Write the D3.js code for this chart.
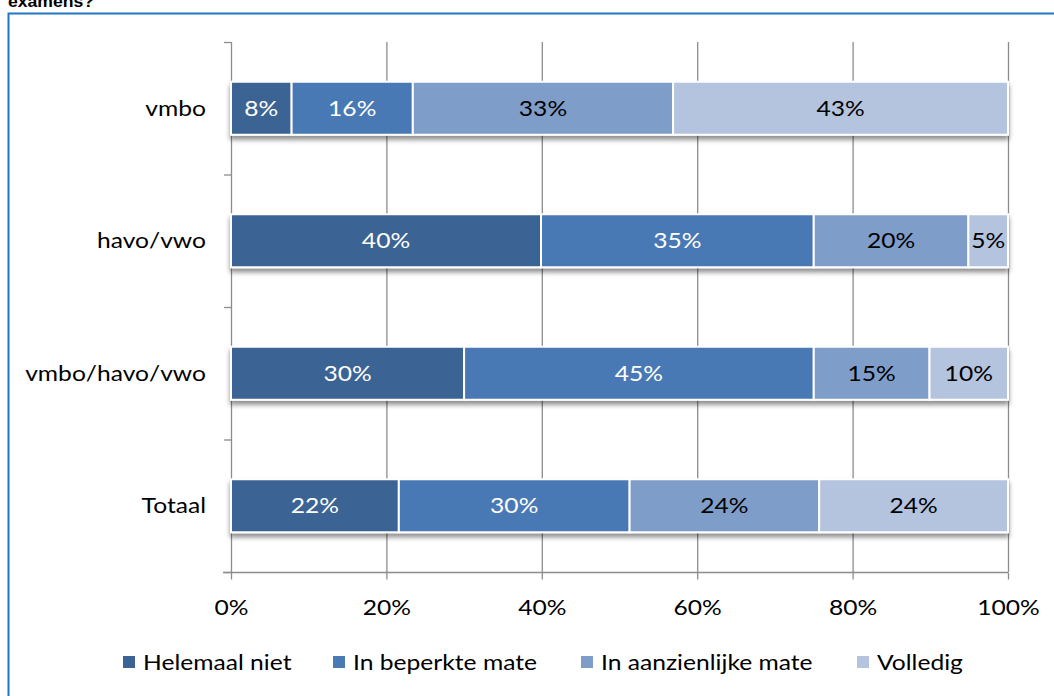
<!DOCTYPE html>
<html>
<head>
<meta charset="utf-8">
<script src="https://cdn.jsdelivr.net/npm/d3@7/dist/d3.min.js"></script>
<style>
html,body{margin:0;padding:0;background:#fff;}
svg{display:block;}
text{font-family:Lato,"Open Sans",sans-serif;}
</style>
</head>
<body>
<svg id="chart" width="1054" height="696"></svg>
<script>
const categories = ["vmbo", "havo/vwo", "vmbo/havo/vwo", "Totaal"];
const seriesNames = ["Helemaal niet", "In beperkte mate", "In aanzienlijke mate", "Volledig"];
const helemaalNiet = [7.8, 39.9, 30.0, 21.6];
const inBeperkteMate = [15.6, 35.1, 45.0, 29.7];
const inAanzienlijkeMate = [33.5, 19.9, 14.9, 24.4];
const volledig = [43.1, 5.1, 10.1, 24.3];
const labelsHelemaalNiet = ["8%", "40%", "30%", "22%"];
const labelsInBeperkteMate = ["16%", "35%", "45%", "30%"];
const labelsInAanzienlijkeMate = ["33%", "20%", "15%", "24%"];
const labelsVolledig = ["43%", "5%", "10%", "24%"];
const xTicks = [0, 20, 40, 60, 80, 100];
const xTickLabels = ["0%", "20%", "40%", "60%", "80%", "100%"];
const colors = ["#3b6494", "#4a79b4", "#7f9dc9", "#b4c3de"];
const textColors = ["#ffffff", "#ffffff", "#000000", "#000000"];

const seriesValues = [helemaalNiet, inBeperkteMate, inAanzienlijkeMate, volledig];
const seriesLabels = [labelsHelemaalNiet, labelsInBeperkteMate, labelsInAanzienlijkeMate, labelsVolledig];

const SX = 1.12; // horizontal stretch of the reference text
const FS = 22;

const svg = d3.select("#chart");

function stretchedText(sel, px, py, anchor, fs, sx) {
  return sel.append("text")
    .attr("transform", `translate(${px},${py}) scale(${sx},1)`)
    .attr("text-anchor", anchor).attr("font-size", fs);
}

// clipped title and outer frame
stretchedText(svg, 8, 7, "start", 16, 1.1)
  .style("font-family", "'Liberation Sans', Arial, sans-serif")
  .attr("font-weight", "bold").attr("fill", "#000")
  .text("examens?");
svg.append("rect").attr("x", 8.5).attr("y", 13.5).attr("width", 1060).attr("height", 700)
  .attr("fill", "none").attr("stroke", "#1f77c4").attr("stroke-width", 2);

const x = d3.scaleLinear().domain([0, 100]).range([231, 1008]);
const y = d3.scaleBand().domain(categories).range([42, 572]).paddingInner(0.6).paddingOuter(0.3);

const defs = svg.append("defs");
const f = defs.append("filter").attr("id", "shadow").attr("x", "-5%").attr("y", "-20%").attr("width", "110%").attr("height", "160%");
f.append("feGaussianBlur").attr("in", "SourceAlpha").attr("stdDeviation", 2.5).attr("result", "b");
f.append("feOffset").attr("in", "b").attr("dx", 0).attr("dy", 4).attr("result", "o");
f.append("feComponentTransfer").attr("in", "o").attr("result", "s")
  .append("feFuncA").attr("type", "linear").attr("slope", 0.45);
const m = f.append("feMerge");
m.append("feMergeNode").attr("in", "s");
m.append("feMergeNode").attr("in", "SourceGraphic");

// gridlines
svg.append("g").selectAll("line").data(xTicks.slice(1)).join("line")
  .attr("x1", d => x(d) + 0.5).attr("x2", d => x(d) + 0.5)
  .attr("y1", 42).attr("y2", 572)
  .attr("stroke", "#8c8c8c").attr("stroke-width", 1.3);

// x axis
const xAxis = svg.append("g").attr("transform", "translate(0,572.5)")
  .call(d3.axisBottom(x).tickValues(xTicks).tickFormat((d, i) => xTickLabels[i]).tickSize(7).tickSizeOuter(0));
xAxis.select(".domain").attr("stroke", "#8c8c8c").attr("stroke-width", 1.3).attr("d", "M223,0H1008");
xAxis.selectAll(".tick line").attr("stroke", "#8c8c8c").attr("stroke-width", 1.3);
xAxis.selectAll(".tick text").attr("font-size", FS).attr("fill", "#000")
  .attr("y", 0).attr("dy", null)
  .attr("transform", `translate(0,42) scale(${SX},1)`)
  .style("font-family", "Lato, sans-serif");

// y axis
const yEdges = d3.range(categories.length + 1).map(i => 42 + i * y.step());
const yAxisG = svg.append("g");
yAxisG.append("line").attr("x1", 231.5).attr("x2", 231.5).attr("y1", 42).attr("y2", 572)
  .attr("stroke", "#8c8c8c").attr("stroke-width", 1.3);
yAxisG.selectAll("line.t").data(yEdges).join("line").attr("class", "t")
  .attr("x1", 224).attr("x2", 231).attr("y1", d => d + 0.5).attr("y2", d => d + 0.5)
  .attr("stroke", "#8c8c8c").attr("stroke-width", 1.3);
categories.forEach(c => {
  stretchedText(yAxisG, 206, y(c) + y.bandwidth() / 2 + 7.5, "end", FS, SX)
    .attr("fill", "#000").text(c);
});

// bars
const stacked = categories.map((c, ci) => {
  let acc = 0;
  return seriesValues.map((vals, si) => {
    const s = { cat: c, si, x0: acc, x1: acc + vals[ci], label: seriesLabels[si][ci] };
    acc += vals[ci];
    return s;
  });
});

const barsG = svg.append("g");
stacked.forEach(row => {
  const g = barsG.append("g").attr("filter", "url(#shadow)");
  g.selectAll("rect").data(row).join("rect")
    .attr("x", d => x(d.x0)).attr("width", d => x(d.x1) - x(d.x0))
    .attr("y", d => y(d.cat)).attr("height", y.bandwidth())
    .attr("fill", d => colors[d.si]).attr("stroke", "#fff").attr("stroke-width", 2);
});
const labelsG = svg.append("g");
stacked.forEach(row => {
  row.forEach(d => {
    stretchedText(labelsG, (x(d.x0) + x(d.x1)) / 2, y(d.cat) + y.bandwidth() / 2 + 7.5, "middle", FS, SX)
      .attr("fill", textColors[d.si]).text(d.label);
  });
});

// legend
const legendX = [123, 333, 581, 857];
const lg = svg.append("g");
seriesNames.forEach((n, i) => {
  lg.append("rect").attr("x", legendX[i]).attr("y", 656).attr("width", 12).attr("height", 12)
    .attr("fill", colors[i]);
  stretchedText(lg, legendX[i] + 20, 670, "start", FS, SX)
    .attr("fill", "#000").text(n);
});
</script>
</body>
</html>
